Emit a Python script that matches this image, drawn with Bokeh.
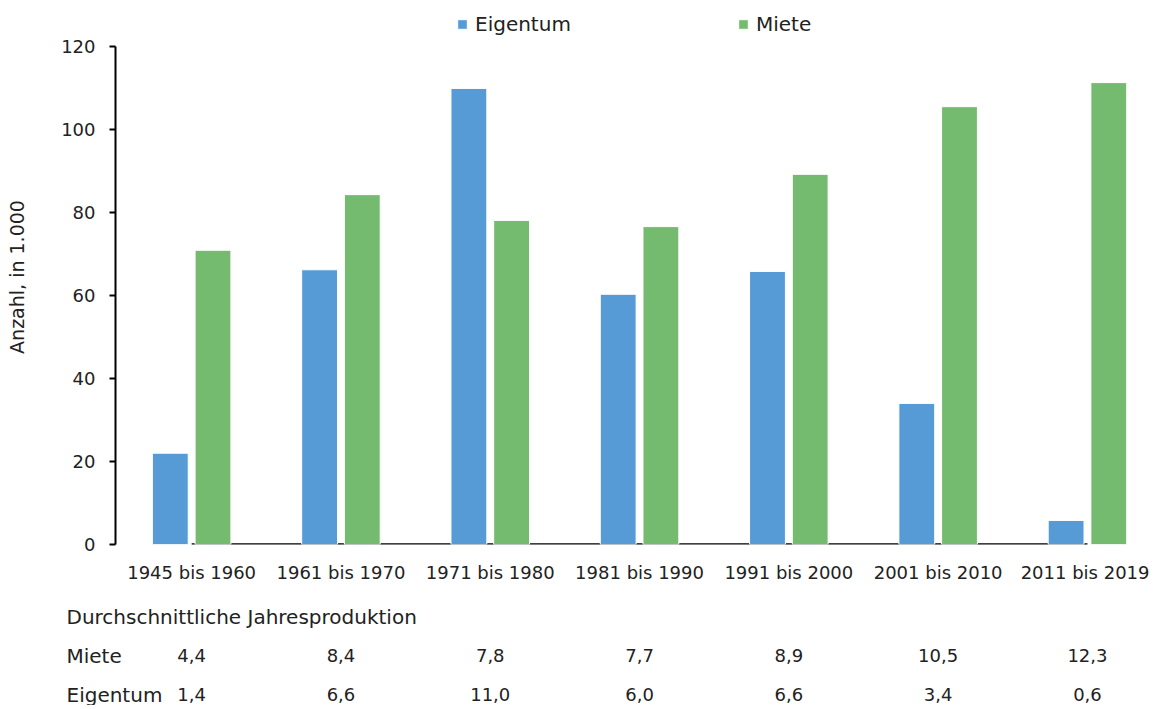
from bokeh.plotting import figure
from bokeh.models import (Range1d, Legend, LegendItem, ColumnDataSource, FixedTicker)
from bokeh.layouts import column
from bokeh.core.properties import value
from bokeh.embed import file_html
from bokeh.resources import INLINE

# ---------------- data ----------------
categories = ["1945 bis 1960", "1961 bis 1970", "1971 bis 1980", "1981 bis 1990",
              "1991 bis 2000", "2001 bis 2010", "2011 bis 2019"]
eigentum = [22.0, 66.2, 109.9, 60.3, 65.8, 34.0, 5.8]
miete = [70.9, 84.3, 78.1, 76.6, 89.2, 105.5, 111.3]
y_ticks = [0, 20, 40, 60, 80, 100, 120]

table_title = "Durchschnittliche Jahresproduktion"
row_names = ["Miete", "Eigentum"]
avg_miete = [4.4, 8.4, 7.8, 7.7, 8.9, 10.5, 12.3]
avg_eigentum = [1.4, 6.6, 11.0, 6.0, 6.6, 3.4, 0.6]

# ---------------- style / layout ----------------
FONT = "DejaVu Sans"
TXT = "#222222"
BLUE = "#569BD6"
GREEN = "#74BB6F"

W = 1149
LEFT = 115          # frame left edge (canvas px) = y-axis line
CAT0 = 116.5        # canvas px where the first category slot starts
CAT_PX = 149.3      # width of one category slot in px (last slot runs past the edge)
TOP = 9             # frame top (canvas px); legend lives inside the frame
Y_TOP_PX = 46       # canvas px of the 120 level
Y_ZERO_PX = 544     # canvas px of the 0 line
BOTTOM = 50
H_MAIN = Y_ZERO_PX + BOTTOM
H_TAB = 111
BAR_W = 0.24
OFF = 0.143

n = len(categories)
Y_MAX = max(y_ticks)
y_end = Y_MAX * (Y_ZERO_PX - TOP) / (Y_ZERO_PX - Y_TOP_PX)
x_start = (LEFT - CAT0) / CAT_PX
x_end = x_start + (W - LEFT) / CAT_PX

centers = [i + 0.5 for i in range(n)]
src = ColumnDataSource(dict(xe=[c - OFF for c in centers], xm=[c + OFF for c in centers],
                            eig=eigentum, mie=miete))

p = figure(x_range=Range1d(x_start, x_end), y_range=Range1d(0, y_end),
           width=W, height=H_MAIN, output_backend="svg", toolbar_location=None,
           min_border_left=LEFT, min_border_right=0, min_border_top=TOP,
           min_border_bottom=BOTTOM)
p.outline_line_color = None
p.grid.visible = False

# x-axis line segment (between first and last category centres, as in the original)
p.segment(x0=[centers[0]], y0=[0], x1=[centers[-1]], y1=[0],
          line_color="black", line_width=2.5)

r_e = p.vbar(x="xe", top="eig", width=BAR_W, bottom=0, source=src,
             fill_color=BLUE, line_color="white", line_width=1)
r_m = p.vbar(x="xm", top="mie", width=BAR_W, bottom=0, source=src,
             fill_color=GREEN, line_color="white", line_width=1)

# y axis
ya = p.yaxis[0]
ya.ticker = y_ticks
ya.bounds = (0, Y_MAX)
ya.axis_line_color = "black"
ya.axis_line_width = 2
ya.major_tick_line_color = "black"
ya.major_tick_line_width = 2
ya.major_tick_out = 6
ya.major_tick_in = 0
ya.minor_tick_line_color = None
ya.major_label_standoff = 14
ya.major_label_text_font = FONT
ya.major_label_text_font_size = "18px"
ya.major_label_text_color = TXT
ya.axis_label = "Anzahl, in 1.000"
ya.axis_label_text_font = FONT
ya.axis_label_text_font_size = "19px"
ya.axis_label_text_font_style = "normal"
ya.axis_label_text_color = TXT
ya.axis_label_standoff = 30

# x axis (category labels at slot centres)
xa = p.xaxis[0]
xa.ticker = FixedTicker(ticks=centers)
xa.major_label_overrides = {c: lab for c, lab in zip(centers, categories)}
xa.axis_line_color = None
xa.major_tick_line_color = None
xa.minor_tick_line_color = None
xa.major_label_standoff = 11
xa.major_label_text_font = FONT
xa.major_label_text_font_size = "18px"
xa.major_label_text_color = TXT

# legend (inside the frame, above the 120 level)
legend = Legend(items=[LegendItem(label="Eigentum", renderers=[r_e]),
                       LegendItem(label="Miete", renderers=[r_m])],
                orientation="horizontal", location=(457 - 116, 508),
                glyph_width=12, glyph_height=12, label_standoff=7,
                label_width=200, label_height=20, spacing=62, padding=0, margin=0,
                border_line_color=None, background_fill_alpha=0,
                label_text_font=FONT, label_text_font_size="20px",
                label_text_color=TXT)
p.add_layout(legend)

# ---------------- table below: frame covers the whole canvas ----------------
t_start = -CAT0 / CAT_PX
t = figure(x_range=Range1d(t_start, t_start + W / CAT_PX), y_range=Range1d(H_TAB, 0),
           width=W, height=H_TAB, output_backend="svg", toolbar_location=None,
           x_axis_location=None, y_axis_location=None,
           min_border=0, min_border_left=0, min_border_right=0, min_border_top=0,
           min_border_bottom=0)
t.grid.visible = False
t.outline_line_color = None
for plot in (p, t):
    try:
        plot.frame_align = False
    except Exception:
        pass

fmt = lambda v: f"{v:.1f}".replace(".", ",")
title_y = 22
row_y = [61, 100]
label_x = (66 - CAT0) / CAT_PX   # left edge of row labels, in category units

t.text(x=[label_x] * 3, y=[title_y] + row_y, text=[table_title] + row_names,
       text_font=value(FONT), text_font_size="20px", text_color=TXT,
       text_baseline="middle", text_align="left")

for vals, yy in zip([avg_miete, avg_eigentum], row_y):
    t.text(x=centers, y=[yy] * n, text=[fmt(v) for v in vals],
           text_font=value(FONT), text_font_size="18px", text_color=TXT,
           text_baseline="middle", text_align="center")

layout = column(p, t, spacing=0)
open("out.html", "w").write(file_html(layout, INLINE))
